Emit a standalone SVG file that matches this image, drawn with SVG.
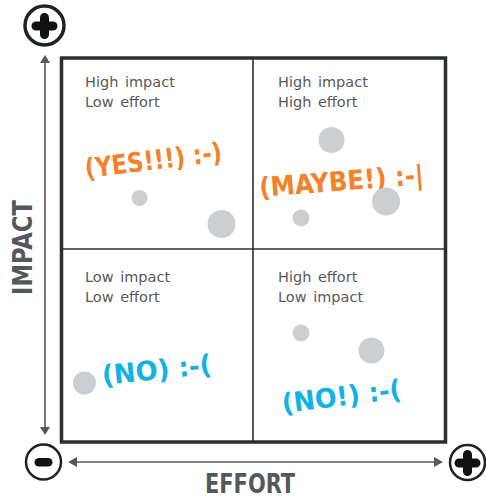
<svg xmlns="http://www.w3.org/2000/svg" width="486" height="500" viewBox="0 0 486 500">
<style>
.lbl{font-family:"DejaVu Sans","Liberation Sans",sans-serif;font-size:14.5px;fill:#58595b;word-spacing:2px}
.hand{font-family:"DejaVu Sans Condensed","DejaVu Sans",sans-serif;font-weight:bold;font-size:27px}
.or{fill:#f5812a}
.bl{fill:#13b2e4}
.dot{fill:#cdcecf}
.axis{stroke:#555759;stroke-width:1.6;fill:none}
.ah{fill:#555759}
.axt{font-family:"DejaVu Sans Condensed","DejaVu Sans",sans-serif;font-weight:bold;font-size:27px;fill:#55585a}
.sign{stroke:#111;stroke-linecap:round;fill:none}
</style>
<rect width="486" height="500" fill="#fff"/>
<g id="connectors">
<line class="axis" x1="45" y1="61" x2="45" y2="429"/>
<polygon class="ah" points="45,55 40,63 50,63"/>
<polygon class="ah" points="45,435 40,427 50,427"/>
<line class="axis" x1="74" y1="462" x2="437" y2="462"/>
<polygon class="ah" points="68,462 77,457 77,467"/>
<polygon class="ah" points="443,462 434,457 434,467"/>
</g>
<g id="grid">
<rect x="61.5" y="58" width="384" height="384" fill="none" stroke="#2b2f2e" stroke-width="3.5"/>
<line x1="253" y1="58" x2="253" y2="442" stroke="#2b2f2e" stroke-width="1.6"/>
<line x1="61.5" y1="249" x2="445.5" y2="249" stroke="#2b2f2e" stroke-width="1.6"/>
</g>
<g id="q1">
<text class="lbl" x="85" y="87">High impact</text>
<text class="lbl" x="85" y="107">Low effort</text>
<text class="hand or" transform="translate(86,178) rotate(-7)" textLength="138" lengthAdjust="spacingAndGlyphs">(YES!!!) :-)</text>
<circle class="dot" cx="139.5" cy="198" r="8"/>
<circle class="dot" cx="221.5" cy="224" r="14"/>
</g>
<g id="q2">
<text class="lbl" x="278" y="87">High impact</text>
<text class="lbl" x="278" y="107">High effort</text>
<circle class="dot" cx="331.5" cy="140" r="13"/>
<text class="hand or" transform="translate(260,197) rotate(-4.5)" textLength="165" lengthAdjust="spacingAndGlyphs">(MAYBE!) :-|</text>
<circle class="dot" cx="386" cy="201.5" r="14"/>
<circle class="dot" cx="301" cy="218" r="8.5"/>
</g>
<g id="q3">
<text class="lbl" x="85" y="282">Low impact</text>
<text class="lbl" x="85" y="302">Low effort</text>
<text class="hand bl" transform="translate(103,385) rotate(-6)" textLength="110" lengthAdjust="spacingAndGlyphs">(NO) :-(</text>
<circle class="dot" cx="84.5" cy="383" r="11.5"/>
</g>
<g id="q4">
<text class="lbl" x="278" y="282">High effort</text>
<text class="lbl" x="278" y="302">Low impact</text>
<circle class="dot" cx="301" cy="333" r="8.5"/>
<circle class="dot" cx="371.5" cy="350.5" r="13"/>
<text class="hand bl" transform="translate(283,413) rotate(-7)" textLength="120" lengthAdjust="spacingAndGlyphs">(NO!) :-(</text>
</g>
<g id="axis-impact">
<text class="axt" transform="translate(32,247.5) rotate(-90)" text-anchor="middle" textLength="95" lengthAdjust="spacingAndGlyphs">IMPACT</text>
</g>
<g id="axis-effort">
<text class="axt" x="250" y="493" text-anchor="middle" textLength="90" lengthAdjust="spacingAndGlyphs">EFFORT</text>
</g>
<g id="plus-top">
<circle cx="44.5" cy="25.5" r="19.5" fill="#fff" stroke="#1e2221" stroke-width="3.5"/>
<path class="sign" stroke-width="9" d="M36,26 H53 M44.5,17.5 V34.5"/>
</g>
<g id="minus">
<circle cx="43.5" cy="462" r="17.5" fill="#fff" stroke="#1e2221" stroke-width="2.5"/>
<rect x="34.5" y="458" width="18" height="8.5" rx="4.25" fill="#111"/>
</g>
<g id="plus-right">
<circle cx="467.5" cy="462.5" r="17.5" fill="#fff" stroke="#1e2221" stroke-width="2.5"/>
<path class="sign" stroke-width="9" d="M459,463 H476 M467.5,454.5 V471.5"/>
</g>
</svg>
